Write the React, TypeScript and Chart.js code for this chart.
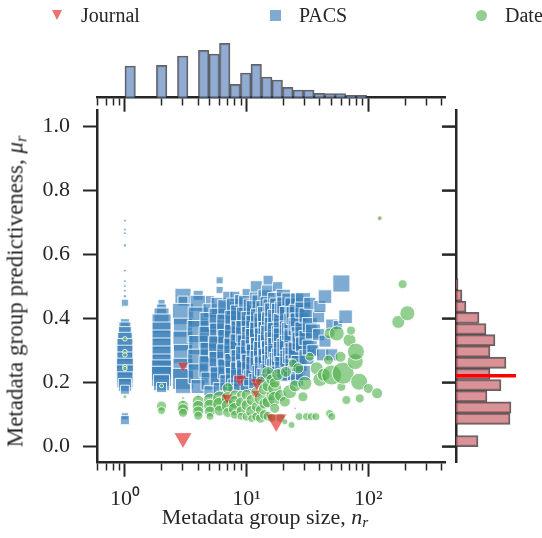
import React, { useEffect, useRef } from 'react';
import { Chart, registerables } from 'chart.js';

Chart.register(...registerables);

type Pt = [number, number, number]; // [group size n, predictiveness mu, marker size]

// ---------- axes ----------
const X_LIMITS = [0.59, 426];
const Y_LIMITS = [-0.05, 1.05];
const X_MAJOR_TICKS = [1, 10, 100];
const X_TICK_LABELS = ['10\u2070', '10\u00B9', '10\u00B2'];
const X_MINOR_TICKS = [0.6, 0.7, 0.8, 0.9, 2, 3, 4, 5, 6, 7, 8, 9, 20, 30, 40, 50, 60, 70, 80, 90, 200, 300, 400];
const Y_TICKS = [0, 0.2, 0.4, 0.6, 0.8, 1.0];
const Y_TICK_LABELS = ['0.0', '0.2', '0.4', '0.6', '0.8', '1.0'];
const SERIES = ['Journal', 'PACS', 'Date'];

// ---------- scatter data ----------
const JOURNAL_POINTS: Pt[] = [
  [3, 0.253, 10], [3, 0.027, 16], [8.8, 0.211, 12], [12.1, 0.2, 12], [11.9, 0.167, 8],
  [6.9, 0.153, 10], [17.5, 0.083, 19], [124, 0.714, 2.5], [25, 0.12, 2],
];

const PACS_POINTS: Pt[] = [
  [1, 0.706, 2.5], [1, 0.679, 2.5], [1, 0.667, 2.5], [1, 0.629, 3], [1, 0.55, 2.5], [1, 0.517, 2.5],
  [1, 0.502, 2.5], [1, 0.487, 2.5], [1, 0.47, 3], [1, 0.45, 7], [1, 0.386, 9], [1, 0.371, 12], [1, 0.355, 13],
  [1, 0.334, 15], [1, 0.313, 16], [1, 0.292, 16], [1, 0.271, 16], [1, 0.25, 17], [1, 0.229, 17], [1, 0.209, 16],
  [1, 0.193, 13], [1, 0.178, 9], [1, 0.095, 7], [1, 0.083, 9],
  [2, 0.449, 7], [2, 0.43, 10], [2, 0.41, 15], [2, 0.385, 19], [2, 0.36, 19], [2, 0.335, 19], [2, 0.31, 19],
  [2, 0.285, 19], [2, 0.26, 19], [2, 0.24, 20], [2, 0.22, 20], [2, 0.2, 16], [2, 0.185, 10],
  [3, 0.47, 16], [3, 0.455, 10], [3, 0.415, 21], [3, 0.372, 19], [3, 0.33, 20], [3, 0.29, 19], [3, 0.245, 20],
  [3, 0.212, 21], [3, 0.19, 15],
  [4, 0.473, 10], [4, 0.448, 16], [4, 0.405, 20], [4, 0.36, 22], [4, 0.318, 19], [4, 0.272, 21], [4, 0.228, 20],
  [4, 0.188, 14],
  [5, 0.458, 9], [5, 0.425, 14], [5, 0.388, 20], [5, 0.342, 22], [5, 0.295, 20], [5, 0.25, 22], [5, 0.205, 18],
  [5, 0.172, 12],
  [6, 0.52, 7], [6, 0.49, 7], [6, 0.44, 17], [6, 0.4, 21], [6, 0.355, 20], [6, 0.312, 22], [6, 0.265, 21],
  [6, 0.22, 19], [6, 0.18, 13],
  [7, 0.47, 10], [7, 0.428, 20], [7, 0.38, 22], [7, 0.335, 20], [7, 0.287, 22], [7, 0.243, 20], [7, 0.2, 16],
  [8, 0.47, 10], [8, 0.438, 17], [8, 0.395, 20], [8, 0.35, 21], [8, 0.305, 22], [8, 0.26, 20], [8, 0.218, 19],
  [8, 0.19, 14],
  [9, 0.455, 13], [9, 0.41, 21], [9, 0.362, 20], [9, 0.318, 22], [9, 0.272, 20], [9, 0.232, 21], [9, 0.198, 15],
  [10, 0.48, 9], [10, 0.447, 16], [10, 0.405, 20], [10, 0.36, 22], [10, 0.32, 19], [10, 0.28, 22], [10, 0.24, 20],
  [10, 0.19, 13],
  [11, 0.435, 17], [11, 0.39, 21], [11, 0.345, 20], [11, 0.3, 22], [11, 0.258, 20], [11, 0.215, 16],
  [12, 0.5, 12], [12, 0.463, 13], [12, 0.425, 20], [12, 0.378, 21], [12, 0.335, 22], [12, 0.29, 20], [12, 0.25, 21],
  [12, 0.205, 15],
  [13, 0.448, 17], [13, 0.4, 20], [13, 0.355, 22], [13, 0.31, 20], [13, 0.268, 21], [13, 0.228, 17],
  [14, 0.47, 13], [14, 0.43, 17], [14, 0.385, 21], [14, 0.34, 20], [14, 0.295, 22], [14, 0.252, 20], [14, 0.222, 15],
  [15, 0.52, 10], [15, 0.485, 13], [15, 0.445, 16], [15, 0.405, 21], [15, 0.36, 20], [15, 0.318, 21], [15, 0.275, 20],
  [15, 0.235, 16],
  [16, 0.435, 17], [16, 0.39, 20], [16, 0.345, 22], [16, 0.3, 20], [16, 0.258, 19], [16, 0.225, 13],
  [17, 0.46, 14], [17, 0.418, 20], [17, 0.372, 21], [17, 0.328, 20], [17, 0.285, 20], [17, 0.25, 16],
  [18, 0.5, 10], [18, 0.44, 16], [18, 0.398, 20], [18, 0.355, 21], [18, 0.31, 20], [18, 0.268, 17], [18, 0.235, 13],
  [19, 0.42, 18], [19, 0.35, 18], [19, 0.28, 18],
  [20, 0.47, 14], [20, 0.428, 17], [20, 0.385, 20], [20, 0.34, 20], [20, 0.298, 20], [20, 0.256, 17], [20, 0.225, 13],
  [21, 0.44, 18], [21, 0.31, 18],
  [22, 0.46, 13], [22, 0.41, 18], [22, 0.365, 18], [22, 0.32, 18], [22, 0.275, 17], [22, 0.225, 13],
  [23, 0.36, 18], [23, 0.285, 16],
  [24, 0.44, 16], [24, 0.39, 18], [24, 0.34, 18], [24, 0.3, 16], [24, 0.262, 16],
  [25, 0.41, 18], [25, 0.23, 15],
  [26, 0.46, 13], [26, 0.42, 16], [26, 0.375, 18], [26, 0.3, 18], [26, 0.25, 16], [26, 0.21, 13],
  [27, 0.39, 18], [27, 0.35, 16], [27, 0.26, 16],
  [28, 0.33, 18],
  [29, 0.458, 15], [29, 0.427, 16], [29, 0.365, 16], [29, 0.32, 15], [29, 0.23, 15],
  [31, 0.41, 15], [31, 0.34, 15], [31, 0.28, 15],
  [33, 0.448, 12], [33, 0.38, 15], [33, 0.31, 15],
  [35, 0.36, 15], [35, 0.3, 12],
  [39, 0.406, 12], [39, 0.35, 12], [40, 0.438, 12], [42, 0.287, 12], [44, 0.469, 13.5], [44, 0.33, 12],
  [50, 0.287, 12], [50, 0.38, 12], [56, 0.38, 9], [60, 0.51, 17], [65, 0.406, 13.5],
];

const DATE_POINTS: Pt[] = [
  [1, 0.337, 4.5], [1, 0.297, 4.5], [1, 0.287, 4.5], [1, 0.25, 4.5], [1, 0.244, 4.5], [1, 0.156, 4],
  [2, 0.19, 4], [2, 0.127, 10], [2, 0.113, 8],
  [3, 0.152, 3], [3, 0.14, 4], [3, 0.128, 11], [3, 0.117, 11], [3, 0.106, 9],
  [4, 0.158, 4], [4, 0.142, 12], [4, 0.126, 12], [4, 0.11, 11], [4, 0.097, 9],
  [5, 0.147, 13], [5, 0.128, 13], [5, 0.11, 11], [5, 0.095, 8],
  [6, 0.152, 14], [6, 0.133, 14], [6, 0.113, 11],
  [7, 0.183, 11], [7, 0.152, 13], [7, 0.128, 13], [7, 0.107, 10],
  [8, 0.162, 10], [8, 0.14, 13], [8, 0.118, 13], [8, 0.1, 9],
  [9, 0.162, 9], [9, 0.138, 11], [9, 0.112, 10], [9, 0.095, 8],
  [10, 0.162, 11], [10, 0.13, 11], [10, 0.094, 9],
  [11, 0.11, 12], [11, 0.146, 11], [11, 0.088, 8],
  [12, 0.094, 9], [12, 0.17, 11], [12, 0.125, 10],
  [13, 0.151, 13], [13, 0.089, 10], [13, 0.205, 10], [13, 0.115, 10],
  [14, 0.1, 10], [14, 0.18, 12], [14, 0.135, 11],
  [15, 0.23, 13], [15, 0.095, 10], [15, 0.14, 12], [15, 0.19, 12],
  [16, 0.21, 11], [16, 0.09, 9], [16, 0.16, 11],
  [17, 0.182, 14], [17, 0.151, 14], [17, 0.2, 11], [17, 0.12, 10],
  [18, 0.225, 12], [19, 0.09, 9], [19, 0.16, 12],
  [20.6, 0.078, 6], [20.6, 0.141, 11], [21, 0.234, 11], [22.6, 0.172, 14], [23.4, 0.068, 7], [24, 0.26, 9],
  [25, 0.19, 12], [26.5, 0.245, 11], [27, 0.094, 8], [29, 0.156, 10], [30, 0.198, 14], [31, 0.094, 8],
  [33, 0.281, 9], [34, 0.094, 8], [37, 0.094, 8], [37.6, 0.245, 13], [40, 0.21, 14], [43, 0.225, 13],
  [47, 0.271, 10], [48, 0.354, 11], [48, 0.104, 8], [50, 0.224, 20], [50, 0.094, 8], [55, 0.354, 15],
  [59, 0.281, 11], [60, 0.187, 9], [62, 0.23, 22], [66, 0.146, 9], [70, 0.333, 13], [72, 0.363, 9],
  [78, 0.266, 16], [79, 0.297, 17], [84, 0.203, 17], [85, 0.151, 9], [100, 0.182, 10], [118, 0.167, 11],
  [124, 0.714, 5], [176, 0.39, 13], [191, 0.508, 9], [209, 0.417, 15],
];

// ---------- marginal histograms ----------
const SIZE_HIST_BINS = [1.105, 2.004, 2.984, 4.437, 5.416, 6.607, 8.06, 9.83, 11.99, 14.63, 17.85, 21.78, 26.57,
  32.42, 39.55, 48.25, 58.87, 71.82, 87.6];
const SIZE_HIST_COUNTS = [31.7, 32.4, 41.7, 47.4, 43.7, 54.4, 13.4, 24.7, 33.4, 20.7, 17.7, 10.4, 7.7, 7.7, 4.4,
  4, 4, 2.4, 2.4];
const MU_HIST_BINS = [0.0175, 0.0525, 0.0875, 0.1225, 0.1575, 0.1925, 0.2275, 0.2625, 0.2975, 0.3325, 0.3675,
  0.4025, 0.4375, 0.4725, 0.5075];
const MU_HIST_COUNTS = [22, 0, 54, 55, 31, 45, 34, 50, 34, 39, 30, 23, 10, 6, 2];
const MU_REFERENCE = 0.222;
const MU_REFERENCE_SPAN = [0, 60];

// ---------- layout & style ----------
const W = 542;
const H = 538;
const PLOT_LEFT = 97;
const PLOT_RIGHT = 445;
const PLOT_TOP = 110.7;
const PLOT_BOTTOM = 462.7;
const TOP_HIST_TOP = 40;
const TOP_HIST_BASE = 97.7;
const TOP_CANVAS_H = 140;
const RIGHT_AXIS_W = 56;
const RIGHT_HIST_LEFT = 456;
const RIGHT_HIST_RIGHT = 532;
const TICK_LEN = 14;

const SERIF = '"Liberation Serif", "Times New Roman", serif';
const INK = '#262626';
const RED = 'rgba(228,26,28,0.62)';
const BLUE = 'rgba(55,126,184,0.65)';
const GREEN = 'rgba(77,175,74,0.6)';
const TICK_FONT = 22;
const TITLE_FONT = 22;
const LEGEND_FONT = 20;

const isMajorCtx = (c: any) => !!c && !!c.tick && X_MAJOR_TICKS.includes(c.tick.value);

function xAxis(labels: boolean, height: number): any {
  return {
    type: 'logarithmic',
    min: X_LIMITS[0],
    max: X_LIMITS[1],
    position: 'bottom',
    offset: false,
    afterBuildTicks: (s: any) => {
      s.ticks = [...X_MINOR_TICKS, ...X_MAJOR_TICKS]
        .sort((a, b) => a - b)
        .map((v) => ({ value: v, major: X_MAJOR_TICKS.includes(v) }));
    },
    afterFit: (s: any) => {
      s.height = height;
    },
    ticks: {
      display: true,
      autoSkip: false,
      maxRotation: 0,
      minRotation: 0,
      padding: 9,
      color: labels ? INK : 'rgba(0,0,0,0)',
      font: { family: SERIF, size: TICK_FONT },
      callback: (v: any) => {
        const i = X_MAJOR_TICKS.indexOf(Number(v));
        return labels && i >= 0 ? X_TICK_LABELS[i] : '';
      },
    },
    grid: {
      display: true,
      drawOnChartArea: false,
      drawTicks: true,
      offset: false,
      tickLength: TICK_LEN,
      tickColor: INK,
      tickWidth: (c: any) => (isMajorCtx(c) ? 2 : 1.5),
      tickBorderDash: (c: any) => (isMajorCtx(c) ? [] : [7, 40]),
    },
    border: { display: true, color: INK, width: 2.5 },
  };
}

function yAxis(labelColor: string, width: number): any {
  return {
    type: 'linear',
    min: Y_LIMITS[0],
    max: Y_LIMITS[1],
    position: 'left',
    offset: false,
    afterBuildTicks: (s: any) => {
      s.ticks = Y_TICKS.map((v) => ({ value: v }));
    },
    afterFit: (s: any) => {
      s.width = width;
    },
    ticks: {
      display: true,
      autoSkip: false,
      padding: 13,
      color: labelColor,
      font: { family: SERIF, size: TICK_FONT },
      callback: (v: any) => {
        const i = Y_TICKS.indexOf(Number(v));
        return i >= 0 ? Y_TICK_LABELS[i] : '';
      },
    },
    grid: {
      display: true,
      drawOnChartArea: false,
      drawTicks: true,
      offset: false,
      tickLength: TICK_LEN,
      tickWidth: 2,
      tickColor: INK,
    },
    border: { display: true, color: INK, width: 2.5 },
  };
}

// tick marks of the right marginal axis, placed with the shared y scale of the joint plot
const marginTicks = {
  id: 'marginTicks',
  afterDraw(chart: any) {
    const s = chart.scales.y;
    if (!s) return;
    const ctx = chart.ctx;
    ctx.save();
    ctx.strokeStyle = INK;
    ctx.lineWidth = 2;
    Y_TICKS.forEach((v) => {
      const y = s.getPixelForValue(v);
      ctx.beginPath();
      ctx.moveTo(RIGHT_HIST_LEFT - TICK_LEN, y);
      ctx.lineTo(RIGHT_HIST_LEFT, y);
      ctx.stroke();
    });
    ctx.restore();
  },
};

function radiusFor(style: string, w: number) {
  if (style === 'rect') return w / Math.SQRT2;
  if (style === 'triangle') return w / 1.6;
  return w / 2;
}

function scatterSet(label: string, pts: Pt[], style: string, color: string, edge: string, edgeW: number): any {
  return {
    label,
    data: pts.map(([n, mu, w]) => ({ x: n, y: mu, w })),
    showLine: false,
    pointStyle: style,
    pointRotation: style === 'triangle' ? 180 : 0,
    pointBackgroundColor: color,
    pointBorderColor: edge,
    pointBorderWidth: edgeW,
    pointRadius: (c: any) => radiusFor(style, c.raw ? c.raw.w : 0),
    pointHoverRadius: (c: any) => radiusFor(style, c.raw ? c.raw.w : 0),
  };
}

const common: any = {
  animation: false,
  responsive: false,
  devicePixelRatio: 1,
  events: [],
};

export default function App() {
  const mainRef = useRef<HTMLCanvasElement>(null);
  const topRef = useRef<HTMLCanvasElement>(null);
  const rightRef = useRef<HTMLCanvasElement>(null);

  useEffect(() => {
    const charts: Chart[] = [];

    charts.push(
      new Chart(mainRef.current as HTMLCanvasElement, {
        type: 'scatter',
        data: {
          datasets: [
            scatterSet(SERIES[0], JOURNAL_POINTS, 'triangle', RED, 'rgba(255,255,255,0.4)', 0.5),
            scatterSet(SERIES[2], DATE_POINTS, 'circle', GREEN, 'rgba(255,255,255,0.85)', 1),
            scatterSet(SERIES[1], PACS_POINTS, 'rect', BLUE, 'rgba(255,255,255,0.85)', 1),
          ],
        },
        options: {
          ...common,
          layout: { padding: { left: 0, top: PLOT_TOP, right: W - PLOT_RIGHT, bottom: 0 } },
          plugins: { legend: { display: false }, tooltip: { enabled: false } },
          scales: { x: xAxis(true, H - PLOT_BOTTOM), y: yAxis(INK, PLOT_LEFT) },
        },
        plugins: [marginTicks],
      } as any)
    );

    charts.push(
      new Chart(topRef.current as HTMLCanvasElement, {
        type: 'bar',
        data: {
          datasets: [
            {
              label: SERIES[1],
              xAxisID: 'xb',
              data: SIZE_HIST_BINS.map((b, i) => ({ x: b, y: SIZE_HIST_COUNTS[i] })),
              backgroundColor: 'rgba(118,150,200,0.8)',
              borderColor: 'rgba(60,60,60,0.8)',
              borderWidth: 1.5,
              borderSkipped: 'start',
              barPercentage: 1,
              categoryPercentage: 1,
            },
          ],
        },
        options: {
          ...common,
          layout: { padding: { left: PLOT_LEFT, top: TOP_HIST_TOP, right: W - PLOT_RIGHT, bottom: 0 } },
          plugins: { legend: { display: false }, tooltip: { enabled: false } },
          scales: {
            x: xAxis(false, TOP_CANVAS_H - TOP_HIST_BASE),
            xb: {
              type: 'logarithmic',
              display: false,
              min: X_LIMITS[0],
              max: X_LIMITS[1],
              offset: false,
              afterBuildTicks: (s: any) => {
                s.ticks = [];
              },
            },
            y: { type: 'linear', display: false, min: 0, max: TOP_HIST_BASE - TOP_HIST_TOP, offset: false },
          },
        },
      } as any)
    );

    charts.push(
      new Chart(rightRef.current as HTMLCanvasElement, {
        type: 'scatter',
        data: {
          datasets: [
            {
              type: 'scatter',
              label: 'reference',
              yAxisID: 'y',
              data: MU_REFERENCE_SPAN.map((x) => ({ x, y: MU_REFERENCE })),
              showLine: true,
              borderColor: '#ff0000',
              borderWidth: 3.5,
              pointRadius: 0,
            },
            {
              type: 'bar',
              label: SERIES[0],
              indexAxis: 'y',
              yAxisID: 'yb',
              data: MU_HIST_BINS.map((b, i) => ({ x: MU_HIST_COUNTS[i], y: b })).filter((d) => d.x > 0),
              backgroundColor: 'rgba(200,100,108,0.7)',
              borderColor: 'rgba(60,60,60,0.8)',
              borderWidth: 1.5,
              borderSkipped: 'start',
              barPercentage: 1,
              categoryPercentage: 1,
            },
          ],
        },
        options: {
          ...common,
          layout: {
            padding: {
              left: RIGHT_HIST_LEFT - RIGHT_AXIS_W,
              top: PLOT_TOP,
              right: W - RIGHT_HIST_RIGHT,
              bottom: H - PLOT_BOTTOM,
            },
          },
          plugins: { legend: { display: false }, tooltip: { enabled: false } },
          scales: {
            x: { type: 'linear', display: false, min: 0, max: RIGHT_HIST_RIGHT - RIGHT_HIST_LEFT, offset: false },
            yb: {
              type: 'linear',
              display: false,
              min: Y_LIMITS[0],
              max: Y_LIMITS[1],
              offset: false,
              afterBuildTicks: (s: any) => {
                s.ticks = [];
              },
            },
            y: yAxis('rgba(255,255,255,0)', RIGHT_AXIS_W),
          },
        },
      } as any)
    );

    return () => charts.forEach((c) => c.destroy());
  }, []);

  const text: React.CSSProperties = {
    position: 'absolute',
    fontFamily: SERIF,
    color: INK,
    whiteSpace: 'nowrap',
  };
  const sub: React.CSSProperties = { fontSize: '0.7em', verticalAlign: '-0.22em', fontStyle: 'italic', lineHeight: 0 };

  return (
    <div style={{ position: 'absolute', left: 0, top: 0, width: W, height: H, background: '#fff', overflow: 'hidden' }}>
      <canvas ref={mainRef} width={W} height={H} style={{ position: 'absolute', left: 0, top: 0 }} />
      <canvas ref={topRef} width={W} height={TOP_CANVAS_H} style={{ position: 'absolute', left: 0, top: 0 }} />
      <canvas ref={rightRef} width={W} height={H} style={{ position: 'absolute', left: 0, top: 0 }} />

      {/* legend */}
      <div
        style={{
          position: 'absolute', left: 52, top: 10.4, width: 0, height: 0,
          borderLeft: '5.3px solid transparent', borderRight: '5.3px solid transparent', borderTop: `10.4px solid ${RED}`,
        }}
      />
      <div style={{ ...text, fontSize: LEGEND_FONT, lineHeight: `${LEGEND_FONT}px`, left: 81, top: 4.8 }}>{SERIES[0]}</div>
      <div style={{ position: 'absolute', left: 269.5, top: 9.6, width: 11, height: 11, background: BLUE }} />
      <div style={{ ...text, fontSize: LEGEND_FONT, lineHeight: `${LEGEND_FONT}px`, left: 299, top: 4.8 }}>{SERIES[1]}</div>
      <div
        style={{ position: 'absolute', left: 476, top: 9.8, width: 11, height: 11, borderRadius: '50%', background: GREEN }}
      />
      <div style={{ ...text, fontSize: LEGEND_FONT, lineHeight: `${LEGEND_FONT}px`, left: 505, top: 4.8 }}>{SERIES[2]}</div>

      {/* axis titles */}
      <div
        style={{
          ...text, fontSize: TITLE_FONT, lineHeight: `${TITLE_FONT}px`,
          left: 265 - 200, width: 400, top: 506, textAlign: 'center',
        }}
      >
        Metadata group size, <i>n</i>
        <sub style={sub}>r</sub>
      </div>
      <div
        style={{
          ...text, fontSize: 23, lineHeight: '23px',
          left: 15 - 200, width: 400, top: 291.5 - 11.5, textAlign: 'center',
          transform: 'rotate(-90deg)',
        }}
      >
        Metadata group predictiveness, <i>μ</i>
        <sub style={sub}>r</sub>
      </div>
    </div>
  );
}
